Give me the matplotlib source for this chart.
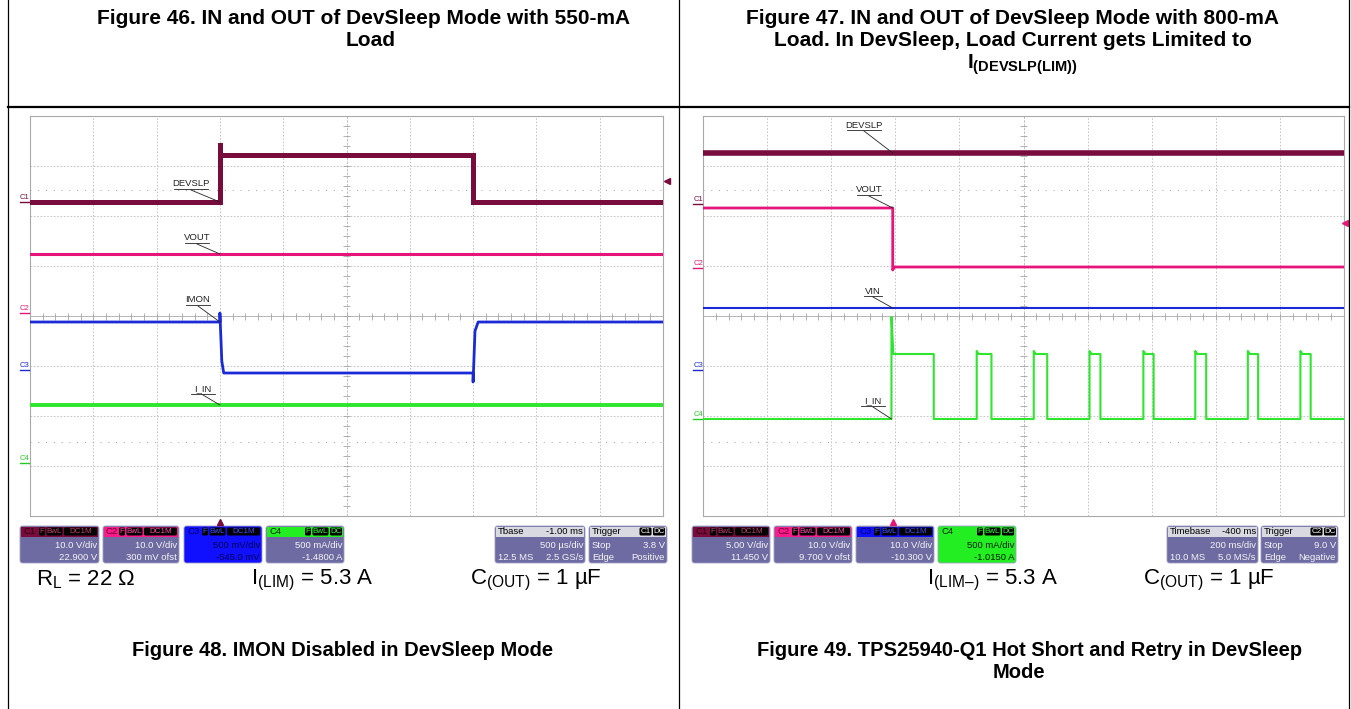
import matplotlib
matplotlib.use('Agg')
import matplotlib.pyplot as plt
from matplotlib.patches import FancyBboxPatch, Rectangle
from matplotlib.collections import LineCollection
import numpy as np

plt.rcParams['font.family'] = ['Liberation Sans', 'DejaVu Sans']
plt.rcParams['mathtext.fontset'] = 'custom'
plt.rcParams['mathtext.rm'] = 'Liberation Sans'
plt.rcParams['mathtext.it'] = 'Liberation Sans:italic'
plt.rcParams['mathtext.bf'] = 'Liberation Sans:bold'

W, H = 1351, 709

# ---------------- data (scope screen units: x 0..10 div, y -4..4 div) -------------
# Figure 48 (left scope)
left_devslp_t = [0, 3.0, 3.0, 3.0, 7.0, 7.0, 10]
left_devslp_v = [2.28, 2.28, 3.46, 3.22, 3.22, 2.28, 2.28]
left_vout_t = [0, 10]
left_vout_v = [1.24, 1.24]
left_imon_t = [0, 3.0, 3.0, 3.03, 3.06, 7.0, 7.0, 7.03, 7.08, 10]
left_imon_v = [-0.12, -0.12, 0.06, -0.9, -1.14, -1.14, -1.32, -0.3, -0.12, -0.12]
left_iin_t = [0, 10]
left_iin_v = [-1.78, -1.78]

# Figure 49 (right scope)
right_devslp_t = [0, 10]
right_devslp_v = [3.26, 3.26]
right_vout_t = [0, 2.96, 2.96, 2.98, 10]
right_vout_v = [2.16, 2.16, 0.92, 0.98, 0.98]
right_vin_t = [0, 10]
right_vin_v = [0.16, 0.16]
right_iin_base = -2.06
right_iin_high = -0.76
right_iin_first_peak = -0.02
right_iin_peak = -0.70
pulse_rise = [2.94, 4.27, 5.16, 6.03, 6.87, 7.68, 8.50, 9.32]
pulse_fall = [3.60, 4.50, 5.37, 6.20, 7.03, 7.85, 8.66, 9.48]

left_labels = ['DEVSLP', 'VOUT', 'IMON', 'I_IN']
right_labels = ['DEVSLP', 'VOUT', 'VIN', 'I_IN']

left_boxes = [
    ('C1', ['F', 'BwL', 'DC1M'], '10.0 V/div', '22.900 V'),
    ('C2', ['F', 'BwL', 'DC1M'], '10.0 V/div', '300 mV ofst'),
    ('C3', ['F', 'BwL', 'DC1M'], '500 mV/div', '-545.0 mV'),
    ('C4', ['F', 'BwL', 'DC'], '500 mA/div', '-1.4800 A'),
]
right_boxes = [
    ('C1', ['F', 'BwL', 'DC1M'], '5.00 V/div', '11.450 V'),
    ('C2', ['F', 'BwL', 'DC1M'], '10.0 V/div', '9.700 V ofst'),
    ('C3', ['F', 'BwL', 'DC1M'], '10.0 V/div', '-10.300 V'),
    ('C4', ['F', 'BwL', 'DC'], '500 mA/div', '-1.0150 A'),
]
left_tbase = ('Tbase', '-1.00 ms', '500 \u00b5s/div', '12.5 MS', '2.5 GS/s')
right_tbase = ('Timebase', '-400 ms', '200 ms/div', '10.0 MS', '5.0 MS/s')
left_trig = ('C1', '3.8 V', 'Positive')
right_trig = ('C2', '9.0 V', 'Negative')

# ---------------- styles ----------------
C1c, C2c, C3c, C4c = '#780c3c', '#e5157a', '#1a2ad6', '#2ee62e'
BODY = '#6e6ba2'

fig = plt.figure(figsize=(W / 100, H / 100), dpi=100)
fig.patch.set_facecolor('white')


def px_rect(x0, y0, x1, y1):
    return [x0 / W, 1 - y1 / H, (x1 - x0) / W, (y1 - y0) / H]


GY0, GY1 = 116, 516
ax_l = fig.add_axes(px_rect(30, GY0, 663, GY1))
ax_r = fig.add_axes(px_rect(703, GY0, 1344, GY1))

ov = fig.add_axes([0, 0, 1, 1], zorder=10)
ov.set_xlim(0, W)
ov.set_ylim(H, 0)
ov.axis('off')
ov.patch.set_visible(False)


def setup_scope(ax):
    ax.set_xlim(0, 10)
    ax.set_ylim(-4, 4)
    ax.set_xticks([])
    ax.set_yticks([])
    for s in ax.spines.values():
        s.set_color('#a9a9a9')
        s.set_linewidth(0.8)
    for i in range(1, 10):
        if i != 5:
            ax.axvline(i, color='#bdbdbd', lw=0.6, ls=(0, (2, 2)), zorder=0)
    for j in range(-3, 4):
        if j != 0:
            ax.axhline(j, color='#bdbdbd', lw=0.6, ls=(0, (2, 2)), zorder=0)
    ax.axvline(5, color='#b5b5b5', lw=0.6, ls=(0, (3, 1.5)), zorder=0)
    ax.axhline(0, color='#b5b5b5', lw=0.7, zorder=0)
    for yy in (2.52, -2.52):
        ax.axhline(yy, color='#a0a0a0', lw=0.7, ls=(0, (1, 7)), zorder=0)
    segs = []
    for k in np.arange(0.2, 10, 0.2):
        segs.append([(k, -0.07), (k, 0.07)])
    for k in np.arange(-3.8, 4, 0.2):
        segs.append([(4.94, k), (5.06, k)])
    ax.add_collection(LineCollection(segs, colors='#a5a5a5', linewidths=0.6, zorder=0))


setup_scope(ax_l)
setup_scope(ax_r)

# ---- left traces ----
ax_l.plot(left_devslp_t, left_devslp_v, color=C1c, lw=3.6, solid_joinstyle='miter', zorder=3)
ax_l.plot(left_vout_t, left_vout_v, color=C2c, lw=2.2, zorder=3)
ax_l.plot(left_imon_t, left_imon_v, color=C3c, lw=2.0, zorder=3)
ax_l.plot(left_iin_t, left_iin_v, color=C4c, lw=2.8, zorder=3)

# ---- right traces ----
ax_r.plot(right_devslp_t, right_devslp_v, color=C1c, lw=4.0, zorder=3)
ax_r.plot(right_vout_t, right_vout_v, color=C2c, lw=2.0, zorder=3)
ax_r.plot(right_vin_t, right_vin_v, color=C3c, lw=1.5, zorder=3)
iin_t = [0]
iin_v = [right_iin_base]
for i, (r, f) in enumerate(zip(pulse_rise, pulse_fall)):
    peak = right_iin_first_peak if i == 0 else right_iin_peak
    iin_t += [r, r, r + 0.03, f, f]
    iin_v += [right_iin_base, peak, right_iin_high, right_iin_high, right_iin_base]
iin_t.append(10)
iin_v.append(right_iin_base)
ax_r.plot(iin_t, iin_v, color=C4c, lw=1.5, zorder=3)


def to_ov(ax, x, y):
    dx, dy = ax.transData.transform((x, y))
    return dx, H - dy


# ---- trace labels with leader lines ----
def trace_label(ax, text, cx, cy, tx, ty):
    ov.text(cx, cy, text, fontsize=6.8, ha='center', va='center', color='#222222')
    wpx = len(text) * 5.8
    ov.plot([cx - wpx / 2, cx + wpx / 2], [cy + 5, cy + 5], color='#222222', lw=0.6)
    px, py = to_ov(ax, tx, ty)
    ov.plot([cx, px], [cy + 6, py], color='#222222', lw=0.6)


trace_label(ax_l, left_labels[0], 191, 184, left_devslp_t[1], left_devslp_v[1])
trace_label(ax_l, left_labels[1], 197, 238, 3.0, left_vout_v[0])
trace_label(ax_l, left_labels[2], 198, 300, left_imon_t[1], left_imon_v[1])
trace_label(ax_l, left_labels[3], 203, 389, 3.0, left_iin_v[0])

trace_label(ax_r, right_labels[0], 864, 125, 2.96, right_devslp_v[0])
trace_label(ax_r, right_labels[1], 869, 190, right_vout_t[1], right_vout_v[1])
trace_label(ax_r, right_labels[2], 873, 291, 2.96, right_vin_v[0])
trace_label(ax_r, right_labels[3], 873, 401, pulse_rise[0], right_iin_base)

# ---- channel markers on left edge ----
def chan_marker(x, y, name, col):
    ov.text(x, y, name, fontsize=5.5, color=col, ha='center', va='bottom')
    ov.plot([x - 5, x + 4], [y + 1, y + 1], color=col, lw=1.0)


for (x, y, n, c) in [(25, 201, 'C1', C1c), (25, 312, 'C2', C2c), (25, 369, 'C3', C3c), (25, 462, 'C4', '#22cc22'),
                     (698, 203, 'C1', C1c), (698, 267, 'C2', C2c), (698, 369, 'C3', C3c), (698, 418, 'C4', '#22cc22')]:
    chan_marker(x, y, n, c)

# trigger markers
ov.plot([220], [522], marker='^', color=C1c, ms=5)
ov.plot([667], [181], marker='<', color=C1c, ms=5)
ov.plot([893], [522], marker='^', color=C2c, ms=5)
ov.plot([1345], [223], marker='<', color=C2c, ms=5)

# ---- info boxes ----
BT, HB, BB = 526, 537, 563
TF = 6.8


def tag_row(xr, labels, txtcol, y=531.5):
    x = xr
    for lab in reversed(labels):
        w = {'F': 6, 'BwL': 16, 'DC1M': 33, 'DC': 12, 'C1': 12, 'C2': 12}[lab]
        ov.add_patch(FancyBboxPatch((x - w, 527.5), w, 8, boxstyle='round,pad=0,rounding_size=1.5',
                                    fc='black', ec='none'))
        ov.text(x - w / 2, y, lab, fontsize=5.8, color=txtcol, ha='center', va='center')
        x -= w + 1.5


def chan_box(x0, x1, name, tags, l1, l2, hdr, namecol, tagcol, body, txtcol):
    ov.add_patch(FancyBboxPatch((x0, BT), x1 - x0, BB - BT, boxstyle='round,pad=0,rounding_size=2.5',
                                fc=body, ec='#a09ec8', lw=0.6))
    ov.add_patch(Rectangle((x0 + 1, BT + 1), x1 - x0 - 2, HB - BT - 1, fc=hdr, ec='none'))
    ov.text(x0 + 3, 531.5, name, fontsize=TF, color=namecol, ha='left', va='center')
    tag_row(x1 - 2, tags, tagcol)
    ov.text(x1 - 2, 546, l1, fontsize=TF, color=txtcol, ha='right', va='center')
    ov.text(x1 - 2, 557, l2, fontsize=TF, color=txtcol, ha='right', va='center')


def draw_boxes(xs, boxes, selected):
    styles = {
        'C1': ('#7a0c3c', '#2a0010', '#c04070'),
        'C2': ('#ff1a8c', '#600030', '#ff4da6'),
        'C3': ('#1010ff', '#000060', '#4050ff'),
        'C4': ('#22ee22', '#002000', '#33ff33'),
    }
    for (x0, x1), (name, tags, l1, l2) in zip(xs, boxes):
        hdr, namecol, tagcol = styles[name]
        if name == selected:
            body = hdr
            txtcol = '#000050' if name == 'C3' else '#002000'
        else:
            body, txtcol = BODY, '#f4f4f4'
        chan_box(x0, x1, name, tags, l1, l2, hdr, namecol, tagcol, body, txtcol)


def tbase_box(x0, x1, info):
    title, off, div, ms, rate = info
    ov.add_patch(FancyBboxPatch((x0, BT), x1 - x0, BB - BT, boxstyle='round,pad=0,rounding_size=2.5',
                                fc=BODY, ec='#a09ec8', lw=0.6))
    ov.add_patch(Rectangle((x0 + 1, BT + 1), x1 - x0 - 2, HB - BT - 1, fc='#d9d9e2', ec='none'))
    ov.text(x0 + 3, 531.5, title, fontsize=TF, color='black', ha='left', va='center')
    ov.text(x1 - 2, 531.5, off, fontsize=TF, color='black', ha='right', va='center')
    ov.text(x1 - 2, 546, div, fontsize=TF, color='#f4f4f4', ha='right', va='center')
    ov.text(x0 + 3, 557, ms, fontsize=TF, color='#f4f4f4', ha='left', va='center')
    ov.text(x1 - 2, 557, rate, fontsize=TF, color='#f4f4f4', ha='right', va='center')


def trig_box(x0, x1, info):
    src, lvl, slope = info
    ov.add_patch(FancyBboxPatch((x0, BT), x1 - x0, BB - BT, boxstyle='round,pad=0,rounding_size=2.5',
                                fc=BODY, ec='#a09ec8', lw=0.6))
    ov.add_patch(Rectangle((x0 + 1, BT + 1), x1 - x0 - 2, HB - BT - 1, fc='#d9d9e2', ec='none'))
    ov.text(x0 + 3, 531.5, 'Trigger', fontsize=TF, color='black', ha='left', va='center')
    tag_row(x1 - 2, [src, 'DC'], 'white')
    ov.text(x0 + 3, 546, 'Stop', fontsize=TF, color='#f4f4f4', ha='left', va='center')
    ov.text(x1 - 2, 546, lvl, fontsize=TF, color='#f4f4f4', ha='right', va='center')
    ov.text(x0 + 3, 557, 'Edge', fontsize=TF, color='#f4f4f4', ha='left', va='center')
    ov.text(x1 - 2, 557, slope, fontsize=TF, color='#f4f4f4', ha='right', va='center')


draw_boxes([(20, 99), (103, 179), (184, 262), (266, 344)], left_boxes, 'C3')
tbase_box(495, 585, left_tbase)
trig_box(589, 667, left_trig)
draw_boxes([(692, 770), (774, 852), (856, 934), (938, 1016)], right_boxes, 'C4')
tbase_box(1167, 1258, right_tbase)
trig_box(1261, 1338, right_trig)

# ---- condition texts ----
FS = 16
ov.text(36, 580, '$\\mathregular{R_L}$ = 22 \u03a9', fontsize=FS, ha='left', va='center')
ov.text(251, 580, r'$\mathregular{I_{(LIM)}}$ = 5.3 A', fontsize=FS, ha='left', va='center')
ov.text(470, 580, '$\\mathregular{C_{(OUT)}}$ = 1 \u00b5F', fontsize=FS, ha='left', va='center')
ov.text(927, 580, '$\\mathregular{I_{(LIM\u2013)}}$ = 5.3 A', fontsize=FS, ha='left', va='center')
ov.text(1143, 580, '$\\mathregular{C_{(OUT)}}$ = 1 \u00b5F', fontsize=FS, ha='left', va='center')

# ---- captions ----
CF = 14.5
CT = 15.0
ov.text(364, 19, 'Figure 46. IN and OUT of DevSleep Mode with 550-mA', fontsize=CT, weight='bold', ha='center', va='center')
ov.text(371, 41, 'Load', fontsize=CT, weight='bold', ha='center', va='center')
ov.text(1013, 19, 'Figure 47. IN and OUT of DevSleep Mode with 800-mA', fontsize=CT, weight='bold', ha='center', va='center')
ov.text(1013, 41, 'Load. In DevSleep, Load Current gets Limited to', fontsize=CT, weight='bold', ha='center', va='center')
ov.text(1022, 65, r'$\mathregular{I_{(DEVSLP(LIM))}}$', fontsize=CT, weight='bold', ha='center', va='center')
ov.text(343, 650, 'Figure 48. IMON Disabled in DevSleep Mode', fontsize=CF, weight='bold', ha='center', va='center')
ov.text(1030, 650, 'Figure 49. TPS25940-Q1 Hot Short and Retry in DevSleep', fontsize=CF, weight='bold', ha='center', va='center')
ov.text(1019, 673, 'Mode', fontsize=CF, weight='bold', ha='center', va='center')

# ---- table lines ----
for x in (8, 679, 1349):
    ov.plot([x, x], [0, H], color='black', lw=0.9)
ov.plot([8, 1349], [107, 107], color='black', lw=1.6)

fig.savefig('out.png', dpi=100, facecolor='white')
